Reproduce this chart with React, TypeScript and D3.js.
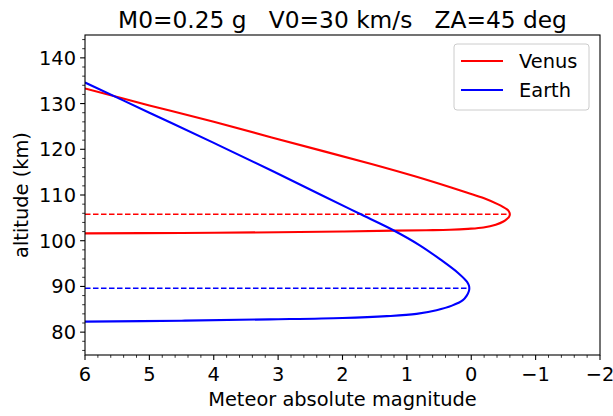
import React from 'react'
import * as d3 from 'd3'

const width = 613
const height = 416
const margin = { top: 35, right: 13, bottom: 61, left: 85 }
const plotW = width - margin.left - margin.right
const plotH = height - margin.top - margin.bottom

const title = 'M0=0.25 g   V0=30 km/s   ZA=45 deg'
const xTicks = [6, 5, 4, 3, 2, 1, 0, -1, -2]
const yTicks = [80, 90, 100, 110, 120, 130, 140]

// magnitude / altitude pairs, ordered along the trajectory (top -> bottom)
const venusMag = [6.0, 5.0, 4.0, 3.1, 2.3, 1.55, 0.85, 0.3, 0.06, -0.2, -0.41, -0.55, -0.586, -0.6, -0.586, -0.565, -0.5, -0.38, -0.19, 0.05, 0.33, 0.7, 1.2, 2.0, 3.0, 4.5, 6.0]
const venusAlt = [133.3, 129.6, 126.0, 122.6, 119.6, 116.8, 114.0, 111.6, 110.5, 109.3, 108.0, 106.9, 106.4, 105.8, 105.2, 104.9, 104.2, 103.5, 102.9, 102.6, 102.4, 102.3, 102.2, 102.0, 101.85, 101.7, 101.6]
const venusPeak = { mag: -0.6, alt: 105.8 }

const earthMag = [6.0, 5.0, 4.0, 3.08, 2.33, 1.75, 1.21, 0.8, 0.47, 0.2, 0.065, 0.036, 0.03, 0.036, 0.07, 0.13, 0.3, 0.54, 0.85, 1.31, 2.0, 3.13, 4.5, 6.0]
const earthAlt = [134.6, 128.0, 121.4, 115.2, 110.0, 106.0, 102.3, 99.0, 95.8, 92.9, 91.0, 90.2, 89.6, 89.0, 88.0, 87.0, 85.8, 84.8, 84.0, 83.5, 83.1, 82.8, 82.5, 82.3]
const earthPeak = { mag: 0.03, alt: 89.6 }

const series = [
  { name: 'Venus', color: '#ff0000', mag: venusMag, alt: venusAlt, peak: venusPeak },
  { name: 'Earth', color: '#0000ff', mag: earthMag, alt: earthAlt, peak: earthPeak },
]

const font = 'DejaVu Sans, sans-serif'
const fs = 19.4

export default function App() {
  const x = d3.scaleLinear().domain([6, -2]).range([0, plotW])
  const y = d3.scaleLinear().domain([75, 145]).range([plotH, 0])

  const line = d3
    .line<[number, number]>()
    .x(d => x(d[0]))
    .y(d => y(d[1]))
    .curve(d3.curveCatmullRom.alpha(0.5))

  const xMinor = d3.range(-2, 6.001, 0.2).filter(v => Math.abs(v - Math.round(v)) > 0.01)
  const yMinor = d3.range(76, 145, 2).filter(v => v % 10 !== 0)

  return (
    <svg width={width} height={height} style={{ position: 'absolute', left: 0, top: 0, background: '#fff' }} fontFamily={font}>
      <text x={margin.left + plotW / 2} y={28} textAnchor="middle" fontSize={23.3} style={{ whiteSpace: 'pre' }}>
        {title}
      </text>
      <g transform={`translate(${margin.left},${margin.top})`}>
        <defs>
          <clipPath id="plot-clip">
            <rect x={0} y={0} width={plotW} height={plotH} />
          </clipPath>
        </defs>
        <g clipPath="url(#plot-clip)">
          {series.map(s => (
            <g key={s.name}>
              <line
                x1={x(6)}
                x2={x(s.peak.mag)}
                y1={y(s.peak.alt)}
                y2={y(s.peak.alt)}
                stroke={s.color}
                strokeWidth={1.4}
                strokeDasharray="5.5,2.5"
              />
              <path
                d={line(s.mag.map((m, i) => [m, s.alt[i]] as [number, number])) || ''}
                fill="none"
                stroke={s.color}
                strokeWidth={2.1}
              />
            </g>
          ))}
        </g>
        <rect x={0} y={0} width={plotW} height={plotH} fill="none" stroke="#000" strokeWidth={1.1} />
        {/* x axis */}
        {xMinor.map(v => (
          <line key={'xm' + v} x1={x(v)} x2={x(v)} y1={plotH} y2={plotH + 2.8} stroke="#000" strokeWidth={0.8} />
        ))}
        {xTicks.map(v => (
          <g key={'x' + v} transform={`translate(${x(v)},${plotH})`}>
            <line y1={0} y2={4.9} stroke="#000" strokeWidth={1.1} />
            <text y={26} textAnchor="middle" fontSize={fs}>
              {v < 0 ? '\u2212' + Math.abs(v) : v}
            </text>
          </g>
        ))}
        <text x={plotW / 2} y={plotH + 51} textAnchor="middle" fontSize={fs}>
          Meteor absolute magnitude
        </text>
        {/* y axis */}
        {yMinor.map(v => (
          <line key={'ym' + v} x1={-2.8} x2={0} y1={y(v)} y2={y(v)} stroke="#000" strokeWidth={0.8} />
        ))}
        {yTicks.map(v => (
          <g key={'y' + v} transform={`translate(0,${y(v)})`}>
            <line x1={-4.9} x2={0} stroke="#000" strokeWidth={1.1} />
            <text x={-9} dy="0.36em" textAnchor="end" fontSize={fs}>
              {v}
            </text>
          </g>
        ))}
        <text transform={`translate(${-57},${plotH / 2}) rotate(-90)`} textAnchor="middle" fontSize={fs}>
          altitude (km)
        </text>
        {/* legend */}
        <g transform={`translate(${454 - margin.left},${44 - margin.top})`}>
          <rect x={0} y={0} width={135} height={66} rx={3} fill="#fff" fillOpacity={0.8} stroke="#ccc" strokeWidth={1} />
          {series.map((s, i) => (
            <g key={'lg' + s.name} transform={`translate(0,${17 + i * 29})`}>
              <line x1={7} x2={49} y1={0} y2={0} stroke={s.color} strokeWidth={2.1} />
              <text x={65} dy="0.36em" fontSize={fs}>
                {s.name}
              </text>
            </g>
          ))}
        </g>
      </g>
    </svg>
  )
}
